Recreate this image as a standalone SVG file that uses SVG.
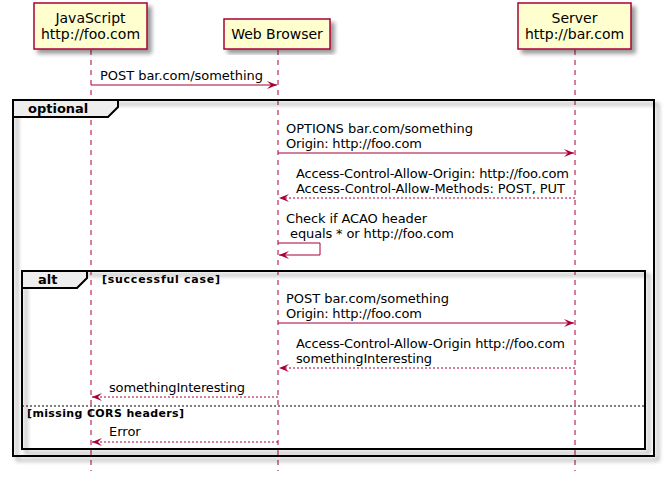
<svg xmlns="http://www.w3.org/2000/svg" width="665" height="484" viewBox="0 0 665 484">
<defs>
<filter id="sh" x="-10%" y="-10%" width="130%" height="130%">
<feGaussianBlur in="SourceAlpha" stdDeviation="2" result="b"/>
<feOffset in="b" dx="4" dy="4" result="o"/>
<feComponentTransfer in="o" result="c"><feFuncA type="linear" slope="0.4"/></feComponentTransfer>
<feMerge><feMergeNode in="c"/><feMergeNode in="SourceGraphic"/></feMerge>
</filter>
<marker id="ah" viewBox="0 0 10 8" refX="10" refY="4" markerWidth="10" markerHeight="8" markerUnits="userSpaceOnUse" orient="auto">
<polygon points="0,0 10,4 0,8 4,4" fill="#A80036"/>
</marker>
</defs>
<style>
.box{fill:#FEFECE;stroke:#A80036;stroke-width:1.5}
.pt{font-family:"DejaVu Sans",sans-serif;font-size:14px;fill:#000;text-anchor:middle}
.life{stroke:#A80036;stroke-width:1;stroke-dasharray:5,5;fill:none}
.msg{stroke:#A80036;stroke-width:1;fill:none;marker-end:url(#ah)}
.ret{stroke:#A80036;stroke-width:1;fill:none;stroke-dasharray:2,2;marker-end:url(#ah)}
.mt{font-family:"DejaVu Sans",sans-serif;font-size:13px;fill:#000}
.frame{fill:none;stroke:#000;stroke-width:2}
.tab{fill:#EEEEEE;stroke:#000;stroke-width:2}
.ft{font-family:"DejaVu Sans",sans-serif;font-size:13px;font-weight:bold;fill:#000}
.cond{font-family:"DejaVu Sans",sans-serif;font-size:11px;font-weight:bold;fill:#000}
</style>
<g id="lifelines">
<line class="life" x1="91" y1="50" x2="91" y2="471"/>
<line class="life" x1="278" y1="50" x2="278" y2="471"/>
<line class="life" x1="575" y1="50" x2="575" y2="471"/>
</g>
<g id="frame-optional">
<rect class="frame" x="13" y="100" width="641" height="356" filter="url(#sh)"/>
<polygon class="tab" points="13,100 118,100 118,107 108,117 13,117"/>
<text class="ft" x="28" y="113">optional</text>
</g>
<g id="frame-alt">
<rect class="frame" x="22" y="271" width="623" height="178" filter="url(#sh)"/>
<polygon class="tab" points="22,271 87,271 87,278 77,288 22,288"/>
<text class="ft" x="38" y="284">alt</text>
<text class="cond" x="102" y="283" textLength="118" lengthAdjust="spacing">[successful case]</text>
<line x1="22" y1="406" x2="645" y2="406" stroke="#000" stroke-width="1" stroke-dasharray="2,2"/>
<text class="cond" x="27" y="417" textLength="157" lengthAdjust="spacing">[missing CORS headers]</text>
</g>
<g id="javascript">
<rect class="box" x="34" y="3" width="113" height="46" filter="url(#sh)"/>
<text class="pt" x="90.5" y="23">JavaScript</text>
<text class="pt" x="90.5" y="39">http://foo.com</text>
</g>
<g id="browser">
<rect class="box" x="224" y="19" width="106" height="30" filter="url(#sh)"/>
<text class="pt" x="277" y="39">Web Browser</text>
</g>
<g id="server">
<rect class="box" x="518" y="3" width="113" height="46" filter="url(#sh)"/>
<text class="pt" x="574.5" y="23">Server</text>
<text class="pt" x="574.5" y="39">http://bar.com</text>
</g>
<g id="connectors">
<line class="msg" x1="91" y1="85" x2="277" y2="85"/>
<text class="mt" x="100" y="80" textLength="163" lengthAdjust="spacing">POST bar.com/something</text>
<line class="msg" x1="278" y1="153" x2="574" y2="153"/>
<text class="mt" x="286" y="133" textLength="187" lengthAdjust="spacing">OPTIONS bar.com/something</text>
<text class="mt" x="286" y="148" textLength="136" lengthAdjust="spacing">Origin: http://foo.com</text>
<line class="ret" x1="575" y1="198" x2="279" y2="198"/>
<text class="mt" x="296" y="178" textLength="273" lengthAdjust="spacing">Access-Control-Allow-Origin: http://foo.com</text>
<text class="mt" x="296" y="193" textLength="269" lengthAdjust="spacing">Access-Control-Allow-Methods: POST, PUT</text>
<polyline class="msg" points="278,243 320,243 320,255 279,255"/>
<text class="mt" x="286" y="223" textLength="141" lengthAdjust="spacing">Check if ACAO header</text>
<text class="mt" x="286" y="238" xml:space="preserve" textLength="168" lengthAdjust="spacing"> equals * or http://foo.com</text>
<line class="msg" x1="278" y1="323" x2="574" y2="323"/>
<text class="mt" x="286" y="303" textLength="163" lengthAdjust="spacing">POST bar.com/something</text>
<text class="mt" x="286" y="318" textLength="136" lengthAdjust="spacing">Origin: http://foo.com</text>
<line class="ret" x1="575" y1="368" x2="279" y2="368"/>
<text class="mt" x="296" y="348" textLength="269" lengthAdjust="spacing">Access-Control-Allow-Origin http://foo.com</text>
<text class="mt" x="296" y="363" textLength="136" lengthAdjust="spacing">somethingInteresting</text>
<line class="ret" x1="278" y1="397" x2="92" y2="397"/>
<text class="mt" x="109" y="392" textLength="136" lengthAdjust="spacing">somethingInteresting</text>
<line class="ret" x1="278" y1="442" x2="92" y2="442"/>
<text class="mt" x="109" y="436">Error</text>
</g>
</svg>
